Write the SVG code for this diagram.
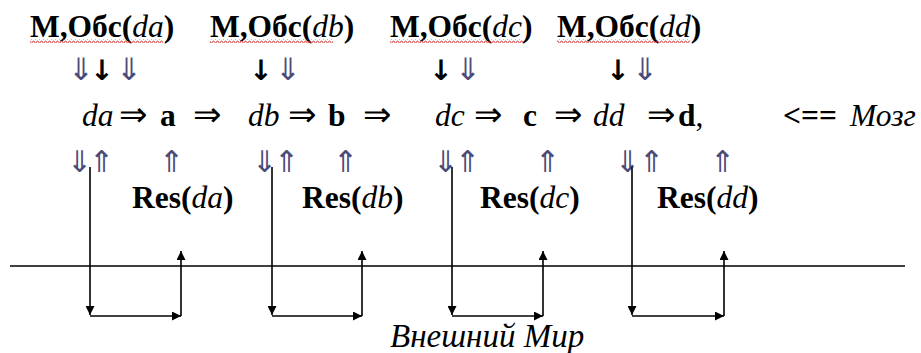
<svg xmlns="http://www.w3.org/2000/svg" width="921" height="353" viewBox="0 0 921 353">
<defs>
  <marker id="ah" viewBox="0 0 10 10" refX="10" refY="5" markerWidth="9" markerHeight="9" markerUnits="userSpaceOnUse" orient="auto">
    <path d="M0,0 L10,5 L0,10 z" fill="#000"/>
  </marker>
  <pattern id="sq" width="4" height="4" patternUnits="userSpaceOnUse">
    <polyline points="0,3 1,1 2,1 3,3 4,3" fill="none" stroke="#d03030" stroke-width="0.8"/>
  </pattern>
</defs>
<rect width="921" height="353" fill="#fff"/>

<g id="obs-da">
  <text x="30" y="37" font-family="Liberation Serif" font-size="31.5" font-weight="bold">M,Обс(<tspan font-style="italic" font-weight="normal">da</tspan>)</text>
  <rect x="30" y="39" width="133" height="4" fill="url(#sq)"/>
  <text x="81" y="80" font-family="Liberation Serif" font-size="31" text-anchor="middle" fill="#4b4b78">⇓</text>
  <text x="102" y="80" font-family="DejaVu Sans" font-size="28" font-weight="bold" text-anchor="middle">↓</text>
  <text x="129" y="80" font-family="Liberation Serif" font-size="31" text-anchor="middle" fill="#4b4b78">⇓</text>
</g>
<g id="obs-db">
  <text x="210" y="37" font-family="Liberation Serif" font-size="31.5" font-weight="bold">M,Обс(<tspan font-style="italic" font-weight="normal">db</tspan>)</text>
  <rect x="210" y="39" width="123" height="4" fill="url(#sq)"/>
  <text x="261" y="80" font-family="DejaVu Sans" font-size="28" font-weight="bold" text-anchor="middle">↓</text>
  <text x="288" y="80" font-family="Liberation Serif" font-size="31" text-anchor="middle" fill="#4b4b78">⇓</text>
</g>
<g id="obs-dc">
  <text x="390" y="37" font-family="Liberation Serif" font-size="31.5" font-weight="bold">M,Обс(<tspan font-style="italic" font-weight="normal">dc</tspan>)</text>
  <rect x="390" y="39" width="133" height="4" fill="url(#sq)"/>
  <text x="441" y="80" font-family="DejaVu Sans" font-size="28" font-weight="bold" text-anchor="middle">↓</text>
  <text x="468" y="80" font-family="Liberation Serif" font-size="31" text-anchor="middle" fill="#4b4b78">⇓</text>
</g>
<g id="obs-dd">
  <text x="557" y="37" font-family="Liberation Serif" font-size="31.5" font-weight="bold">M,Обс(<tspan font-style="italic" font-weight="normal">dd</tspan>)</text>
  <rect x="557" y="39" width="133" height="4" fill="url(#sq)"/>
  <text x="618" y="80" font-family="DejaVu Sans" font-size="28" font-weight="bold" text-anchor="middle">↓</text>
  <text x="645" y="80" font-family="Liberation Serif" font-size="31" text-anchor="middle" fill="#4b4b78">⇓</text>
</g>

<g id="chain" font-size="31.5">
  <text x="82" y="126" font-family="Liberation Serif" font-style="italic">da</text>
  <text x="133" y="126" font-family="Liberation Serif" font-size="34" text-anchor="middle">⇒</text>
  <text x="160" y="126" font-family="Liberation Serif" font-weight="bold">a</text>
  <text x="207" y="126" font-family="Liberation Serif" font-size="34" text-anchor="middle">⇒</text>
  <text x="248" y="126" font-family="Liberation Serif" font-style="italic">db</text>
  <text x="302" y="126" font-family="Liberation Serif" font-size="34" text-anchor="middle">⇒</text>
  <text x="328" y="126" font-family="Liberation Serif" font-weight="bold">b</text>
  <text x="377" y="126" font-family="Liberation Serif" font-size="34" text-anchor="middle">⇒</text>
  <text x="435" y="126" font-family="Liberation Serif" font-style="italic">dc</text>
  <text x="488" y="126" font-family="Liberation Serif" font-size="34" text-anchor="middle">⇒</text>
  <text x="523" y="126" font-family="Liberation Serif" font-weight="bold">c</text>
  <text x="568" y="126" font-family="Liberation Serif" font-size="34" text-anchor="middle">⇒</text>
  <text x="593" y="126" font-family="Liberation Serif" font-style="italic">dd</text>
  <text x="661" y="126" font-family="Liberation Serif" font-size="34" text-anchor="middle">⇒</text>
  <text x="678" y="126" font-family="Liberation Serif" font-weight="bold">d<tspan font-weight="normal">,</tspan></text>
</g>

<g id="brain" font-size="31.5">
  <text x="783" y="126" font-family="Liberation Serif" font-weight="bold">&lt;==</text>
  <text x="850" y="126" font-family="Liberation Serif" font-style="italic">Мозг</text>
</g>

<g id="res-da">
  <text x="79" y="172" font-family="Liberation Serif" font-size="30" text-anchor="middle" fill="#4b4b78">⇓</text>
  <text x="101" y="172" font-family="Liberation Serif" font-size="30" text-anchor="middle" fill="#4b4b78">⇑</text>
  <text x="171" y="172" font-family="Liberation Serif" font-size="30" text-anchor="middle" fill="#4b4b78">⇑</text>
  <text x="132" y="208" font-family="Liberation Serif" font-size="31.5" font-weight="bold">Res(<tspan font-style="italic" font-weight="normal">da</tspan>)</text>
</g>
<g id="res-db">
  <text x="264" y="172" font-family="Liberation Serif" font-size="30" text-anchor="middle" fill="#4b4b78">⇓</text>
  <text x="286" y="172" font-family="Liberation Serif" font-size="30" text-anchor="middle" fill="#4b4b78">⇑</text>
  <text x="345" y="172" font-family="Liberation Serif" font-size="30" text-anchor="middle" fill="#4b4b78">⇑</text>
  <text x="302" y="208" font-family="Liberation Serif" font-size="31.5" font-weight="bold">Res(<tspan font-style="italic" font-weight="normal">db</tspan>)</text>
</g>
<g id="res-dc">
  <text x="445" y="172" font-family="Liberation Serif" font-size="30" text-anchor="middle" fill="#4b4b78">⇓</text>
  <text x="467" y="172" font-family="Liberation Serif" font-size="30" text-anchor="middle" fill="#4b4b78">⇑</text>
  <text x="547" y="172" font-family="Liberation Serif" font-size="30" text-anchor="middle" fill="#4b4b78">⇑</text>
  <text x="480" y="208" font-family="Liberation Serif" font-size="31.5" font-weight="bold">Res(<tspan font-style="italic" font-weight="normal">dc</tspan>)</text>
</g>
<g id="res-dd">
  <text x="627" y="172" font-family="Liberation Serif" font-size="30" text-anchor="middle" fill="#4b4b78">⇓</text>
  <text x="651" y="172" font-family="Liberation Serif" font-size="30" text-anchor="middle" fill="#4b4b78">⇑</text>
  <text x="722" y="172" font-family="Liberation Serif" font-size="30" text-anchor="middle" fill="#4b4b78">⇑</text>
  <text x="657" y="208" font-family="Liberation Serif" font-size="31.5" font-weight="bold">Res(<tspan font-style="italic" font-weight="normal">dd</tspan>)</text>
</g>

<g id="world">
  <line x1="10" y1="266" x2="905" y2="266" stroke="#000" stroke-width="1.6"/>
  <text x="390" y="347" font-family="Liberation Serif" font-style="italic" font-size="33">Внешний Мир</text>
</g>

<g id="connectors" fill="none" stroke="#000" stroke-width="1.6">
  <path d="M90,167 V315" marker-end="url(#ah)"/>
  <path d="M90,316 H181" marker-end="url(#ah)"/>
  <path d="M181,316 V251" marker-end="url(#ah)"/>
  <path d="M272,167 V315" marker-end="url(#ah)"/>
  <path d="M272,316 H362" marker-end="url(#ah)"/>
  <path d="M362,316 V251" marker-end="url(#ah)"/>
  <path d="M452,167 V315" marker-end="url(#ah)"/>
  <path d="M452,316 H543" marker-end="url(#ah)"/>
  <path d="M543,316 V251" marker-end="url(#ah)"/>
  <path d="M632,167 V315" marker-end="url(#ah)"/>
  <path d="M632,316 H724" marker-end="url(#ah)"/>
  <path d="M724,316 V251" marker-end="url(#ah)"/>
</g>
</svg>
